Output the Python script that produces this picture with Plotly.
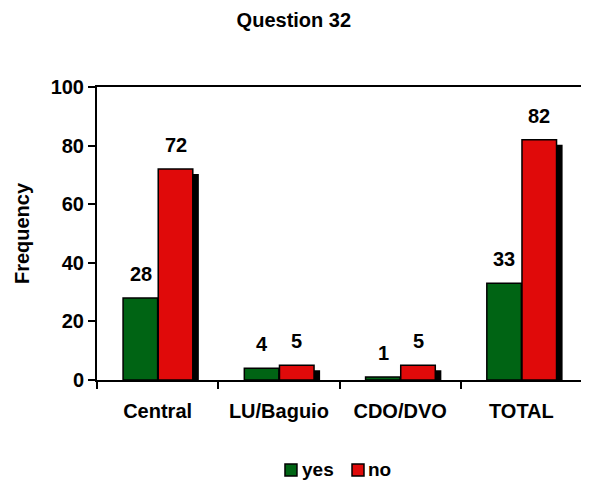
import plotly.graph_objects as go

categories = ["Central", "LU/Baguio", "CDO/DVO", "TOTAL"]
yes_values = [28, 4, 1, 33]
no_values = [72, 5, 5, 82]
y_ticks = [0, 20, 40, 60, 80, 100]

GREEN = "#006414"
RED = "#E00A0A"
W = 0.285
SHX = 0.05     # shadow offset in category units
SHY = 1.7      # shadow drop in y units
FONT = "Liberation Sans, Arial, sans-serif"

fig = go.Figure()

# shadows (drawn first)
for vals, off in [(yes_values, -W), (no_values, 0.005)]:
    fig.add_trace(go.Bar(
        x=categories, y=vals, base=[-SHY] * len(vals),
        offset=off + SHX, width=W, marker=dict(color="black", line=dict(width=0)),
        showlegend=False, hoverinfo="skip"))

fig.add_trace(go.Bar(name="yes", x=categories, y=yes_values, offset=-W, width=W,
                     marker=dict(color=GREEN, line=dict(color="black", width=1.5)),
                     showlegend=False))
fig.add_trace(go.Bar(name="no", x=categories, y=no_values, offset=0.005, width=W,
                     marker=dict(color=RED, line=dict(color="black", width=1.5)),
                     showlegend=False))

annotations = []
for vals, xs in [(yes_values, -17), (no_values, 18)]:
    for c, v in zip(categories, vals):
        annotations.append(dict(x=c, y=v, text=f"<b>{v}</b>", showarrow=False, xref="x", yref="y",
                                xshift=xs, yshift=24, yanchor="middle",
                                font=dict(size=20, color="black", family=FONT)))

# custom legend
legend_items = [("yes", GREEN, 0.3876, 0.4186), ("no", RED, 0.5258, 0.5546)]
shapes = []
for name, col, x0, tx in legend_items:
    shapes.append(dict(type="rect", xref="paper", yref="paper", x0=x0, x1=x0 + 0.0247,
                       y0=-0.2867, y1=-0.3276, fillcolor=col,
                       line=dict(color="black", width=1.5)))
    annotations.append(dict(x=tx, y=-0.307, xref="paper", yref="paper", text=f"<b>{name}</b>",
                            showarrow=False, xanchor="left", yanchor="middle",
                            font=dict(size=19, color="black", family=FONT)))

fig.update_layout(
    width=581, height=476,
    barmode="overlay",
    paper_bgcolor="white", plot_bgcolor="white",
    margin=dict(l=89, r=7, t=79, b=104),
    font=dict(family=FONT, color="black", size=20),
    title=dict(text="<b>Question 32</b>", x=0.492, xanchor="center", y=0.974, yanchor="middle",
               xref="container", yref="container", font=dict(size=20)),
    annotations=annotations,
    shapes=shapes,
    showlegend=False,
    xaxis=dict(type="category", showline=True, linecolor="black", linewidth=2, mirror=True,
               ticks="outside", tickson="boundaries", ticklen=7, tickwidth=2, tickcolor="black",
               showgrid=False, ticklabelstandoff=12,
               tickfont=dict(size=20), tickvals=categories,
               ticktext=[f"<b>{c}</b>" for c in categories]),
    yaxis=dict(range=[0, 100], tickvals=y_ticks, ticktext=[f"<b>{t}</b>" for t in y_ticks],
               showline=True, linecolor="black", linewidth=2, ticks="outside", ticklen=7,
               tickwidth=2, tickcolor="black", showgrid=False, zeroline=False,
               tickfont=dict(size=20),
               title=dict(text="<b>Frequency</b>", font=dict(size=20), standoff=16)),
)

fig.write_html("out.html")
